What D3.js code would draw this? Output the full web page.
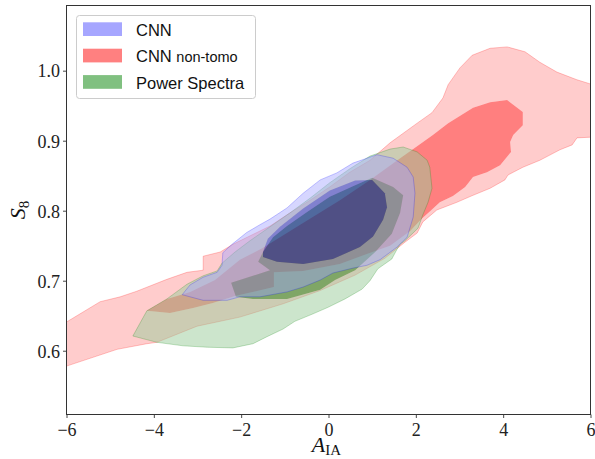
<!DOCTYPE html>
<html>
<head>
<meta charset="utf-8">
<script src="https://cdn.jsdelivr.net/npm/d3@7"></script>
<style>
  html, body { margin: 0; padding: 0; background: #fff; }
  svg { display: block; }
</style>
</head>
<body>
<div id="chart"></div>
<script>
// ---- Data (A_IA, S8) contour polygons ----
const seriesNames = ["CNN", "CNN non-tomo", "Power Spectra"];
const xTicks = [-6, -4, -2, 0, 2, 4, 6];
const yTicks = [0.6, 0.7, 0.8, 0.9, 1.0];

// CNN non-tomo: outer (95%) and inner (68%) regions
const nonTomoOuter = [
  [-6.0,0.641],[-5.23,0.670],[-4.77,0.677],[-4.39,0.685],[-3.70,0.702],[-3.24,0.712],
  [-2.87,0.715],[-2.87,0.735],[-2.48,0.741],[-2.19,0.752],[-1.80,0.764],[-1.34,0.778],
  [-0.88,0.797],[-0.42,0.815],[0.03,0.834],[0.49,0.855],[0.95,0.872],[1.41,0.897],
  [2.03,0.925],[2.37,0.940],[2.62,0.961],[2.74,0.980],[3.01,1.004],[3.29,1.022],
  [3.70,1.032],[4.09,1.034],[4.50,1.027],[4.84,1.012],[5.23,0.998],[5.69,0.987],
  [6.0,0.981],[6.0,0.905],[5.69,0.904],[5.58,0.894],[5.30,0.887],[4.84,0.872],
  [4.45,0.862],[4.11,0.851],[4.04,0.844],[3.70,0.832],[3.31,0.822],[2.94,0.812],
  [2.48,0.801],[2.16,0.784],[2.03,0.768],[1.75,0.755],[1.29,0.732],[0.61,0.708],
  [-0.19,0.686],[-1.04,0.667],[-2.03,0.648],[-3.01,0.635],[-3.93,0.612],[-4.16,0.610],
  [-4.84,0.602],[-6.0,0.578]
];
const nonTomoInner = [
  [-4.16,0.657],[-3.70,0.674],[-3.17,0.684],[-2.60,0.701],[-2.03,0.730],[-1.50,0.747],
  [-0.65,0.780],[0.26,0.815],[0.95,0.844],[1.64,0.875],[1.98,0.890],[2.39,0.908],
  [2.74,0.925],[3.31,0.947],[3.70,0.955],[4.09,0.958],[4.45,0.941],[4.45,0.922],
  [4.23,0.908],[4.16,0.898],[4.18,0.884],[3.93,0.865],[3.63,0.855],[3.31,0.848],
  [3.13,0.834],[2.85,0.821],[2.55,0.812],[2.32,0.799],[2.14,0.789],[1.87,0.771],
  [1.41,0.750],[0.88,0.738],[0.26,0.724],[-0.58,0.714],[-1.25,0.712],[-1.25,0.691],
  [-2.14,0.678],[-2.65,0.668],[-3.10,0.661],[-3.63,0.654]
];

// Power Spectra
const psOuter = [
  [-4.48,0.621],[-4.16,0.657],[-3.70,0.674],[-3.24,0.695],[-2.87,0.707],[-2.55,0.714],
  [-2.44,0.725],[-2.14,0.741],[-1.80,0.757],[-1.34,0.777],[-0.88,0.797],[-0.42,0.818],
  [0.03,0.840],[0.49,0.860],[0.95,0.878],[1.41,0.888],[1.71,0.891],[2.03,0.884],
  [2.26,0.872],[2.32,0.862],[2.37,0.832],[2.28,0.812],[2.16,0.794],[2.05,0.775],
  [1.75,0.757],[1.64,0.752],[1.57,0.745],[1.45,0.731],[1.13,0.717],[0.95,0.700],
  [0.77,0.688],[0.38,0.674],[-0.01,0.662],[-0.38,0.652],[-0.77,0.642],[-1.04,0.631],
  [-1.41,0.620],[-1.73,0.610],[-2.19,0.604],[-2.78,0.605],[-3.33,0.607],[-3.93,0.612]
];
const psInner = [
  [-2.23,0.697],[-2.12,0.677],[-1.73,0.674],[-0.95,0.674],[-0.19,0.687],[0.15,0.701],
  [0.61,0.715],[1.07,0.741],[1.45,0.767],[1.64,0.797],[1.71,0.822],[1.48,0.834],
  [1.00,0.847],[0.56,0.835],[0.03,0.820],[-0.49,0.798],[-0.95,0.778],[-1.27,0.762],
  [-1.50,0.741],[-1.61,0.727],[-1.34,0.715]
];

// CNN
const cnnOuter = [
  [-3.35,0.680],[-3.17,0.694],[-2.87,0.705],[-2.55,0.712],[-2.44,0.722],[-2.42,0.740],
  [-2.19,0.753],[-1.87,0.769],[-1.57,0.780],[-1.34,0.788],[-0.95,0.804],[-0.58,0.825],
  [-0.19,0.844],[0.19,0.854],[0.56,0.868],[0.88,0.875],[1.11,0.880],[1.48,0.875],
  [1.80,0.862],[1.94,0.848],[1.98,0.825],[1.94,0.791],[1.80,0.762],[1.57,0.748],
  [1.18,0.730],[0.88,0.722],[0.56,0.718],[0.10,0.711],[-0.19,0.701],[-0.58,0.691],
  [-0.95,0.684],[-1.57,0.677],[-2.03,0.677],[-2.32,0.672],[-2.87,0.672]
];
const cnnInner = [
  [-1.50,0.741],[-1.50,0.734],[-1.18,0.727],[-0.58,0.724],[0.10,0.731],[0.72,0.748],
  [1.02,0.763],[1.25,0.787],[1.34,0.805],[1.29,0.825],[1.00,0.844],[0.61,0.843],
  [0.03,0.829],[-0.58,0.803],[-1.11,0.777],[-1.39,0.760]
];

// ---- Layout ----
const W = 595, H = 459;
const plot = { left: 66.5, right: 590.5, top: 5.5, bottom: 414.5 };

const x = d3.scaleLinear().domain([-6, 6]).range([plot.left, plot.right]);
const y = d3.scaleLinear().domain([0.5089, 1.0931]).range([plot.bottom, plot.top]);

const svg = d3.select("#chart").append("svg")
  .attr("width", W).attr("height", H)
  .attr("viewBox", `0 0 ${W} ${H}`);

svg.append("defs").append("clipPath").attr("id", "clip")
  .append("rect")
  .attr("x", plot.left).attr("y", plot.top)
  .attr("width", plot.right - plot.left).attr("height", plot.bottom - plot.top);

const line = d3.line().x(d => x(d[0])).y(d => y(d[1])).curve(d3.curveLinearClosed);

// Each series: outer band (ring, light tint) + inner region (full colour)
const series = [
  { outer: nonTomoOuter, inner: nonTomoInner, ring: "#ff9999", ringOp: 0.5,
    core: "#ff0000", coreOp: 0.5, edge: "#ff0000" },
  { outer: psOuter, inner: psInner, ring: "#99cc99", ringOp: 0.5,
    core: "#008000", coreOp: 0.5, edge: "#008000" },
  { outer: cnnOuter, inner: cnnInner, ring: "#a3a3ff", ringOp: 0.45,
    core: "#0000ff", coreOp: 0.37, edge: "#0000ff" }
];

const g = svg.append("g").attr("clip-path", "url(#clip)");
series.forEach(S => {
  g.append("path")
    .attr("d", line(S.outer) + line(S.inner))
    .attr("fill", S.ring)
    .attr("fill-opacity", S.ringOp)
    .attr("fill-rule", "evenodd");
  g.append("path")
    .attr("d", line(S.inner))
    .attr("fill", S.core)
    .attr("fill-opacity", S.coreOp);
  g.append("path")
    .attr("d", line(S.outer))
    .attr("fill", "none")
    .attr("stroke", S.edge)
    .attr("stroke-opacity", 0.25)
    .attr("stroke-width", 0.9)
    .attr("stroke-linejoin", "round");
});

// ---- Axes ----
const tickFont = "'Liberation Serif', 'DejaVu Serif', serif";
const xAxis = svg.append("g")
  .attr("transform", `translate(0,${plot.bottom})`)
  .call(d3.axisBottom(x).tickValues(xTicks).tickSize(3.5).tickPadding(5)
        .tickFormat(d3.format("d")));
const yAxis = svg.append("g")
  .attr("transform", `translate(${plot.left},0)`)
  .call(d3.axisLeft(y).tickValues(yTicks).tickSize(3.5).tickPadding(3)
        .tickFormat(d3.format(".1f")));

[xAxis, yAxis].forEach(a => {
  a.select(".domain").remove();
  a.selectAll(".tick line").attr("stroke", "#333").attr("stroke-width", 0.9);
  a.selectAll(".tick text")
    .attr("fill", "#222")
    .style("font-family", tickFont)
    .style("font-size", "18px");
});
xAxis.selectAll(".tick text").attr("dy", "0.72em");
yAxis.selectAll(".tick text").attr("dy", "0.35em");

// Frame (all four spines)
svg.append("rect")
  .attr("x", plot.left).attr("y", plot.top)
  .attr("width", plot.right - plot.left).attr("height", plot.bottom - plot.top)
  .attr("fill", "none").attr("stroke", "#333").attr("stroke-width", 1);

// Axis labels
const xl = svg.append("text")
  .attr("x", (plot.left + plot.right) / 2 - 2).attr("y", 452)
  .attr("text-anchor", "middle")
  .style("font-family", tickFont).style("font-size", "22px").attr("fill", "#111");
xl.append("tspan").text("A").style("font-style", "italic");
xl.append("tspan").text("IA").style("font-size", "15px").attr("dy", 3);

const yl = svg.append("text")
  .attr("transform", `translate(25,${(plot.top + plot.bottom) / 2}) rotate(-90)`)
  .attr("text-anchor", "middle")
  .style("font-family", tickFont).style("font-size", "22px").attr("fill", "#111");
yl.append("tspan").text("S").style("font-style", "italic");
yl.append("tspan").text("8").style("font-size", "15px").attr("dy", 4);

// ---- Legend ----
const legendColors = ["#a6a6ff", "#ff8080", "#80c080"];
const leg = svg.append("g");
leg.append("rect")
  .attr("x", 76.5).attr("y", 15.5).attr("width", 179).attr("height", 83)
  .attr("rx", 3).attr("fill", "#fff").attr("fill-opacity", 0.8)
  .attr("stroke", "#cccccc").attr("stroke-width", 1);
const legFont = "'Liberation Sans', Arial, sans-serif";
seriesNames.forEach((name, i) => {
  const yb = 22.3 + i * 26.4;
  leg.append("rect")
    .attr("x", 83).attr("y", yb).attr("width", 39).attr("height", 13.7)
    .attr("fill", legendColors[i]);
  const t = leg.append("text")
    .attr("x", 136).attr("y", yb + 13.5)
    .style("font-family", legFont).style("font-size", "16.5px").attr("fill", "#111");
  if (name === "CNN non-tomo") {
    t.append("tspan").text("CNN ");
    t.append("tspan").text("non-tomo").style("font-size", "14.5px");
  } else {
    t.text(name);
  }
});
</script>
</body>
</html>
